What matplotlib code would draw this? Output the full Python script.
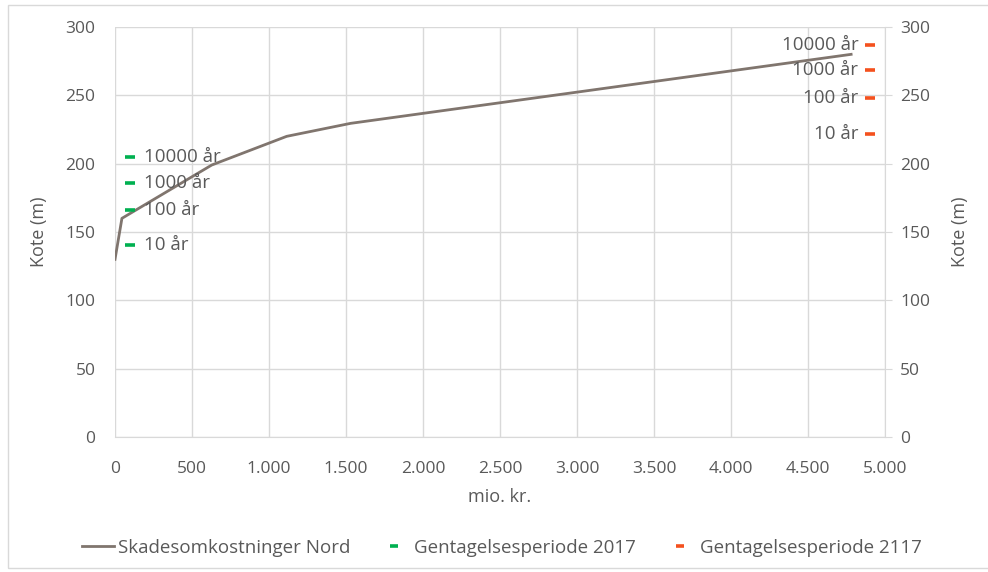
import matplotlib.pyplot as plt
from matplotlib.patches import Rectangle

plt.rcParams['font.family'] = ['Open Sans', 'DejaVu Sans']

# skadesomkostninger (mio. kr.) mod kote (m)
cost = [0, 45, 628, 1115, 1530, 4780]
kote = [130, 160, 199, 220, 229.5, 280]

periods = ["10 år", "100 år", "1000 år", "10000 år"]
x_2017 = [100, 100, 100, 100]
kote_2017 = [140.5, 166, 186, 205]
x_2117 = [4900, 4900, 4900, 4900]
kote_2117 = [222, 248, 268.5, 287]

xticks = [0, 500, 1000, 1500, 2000, 2500, 3000, 3500, 4000, 4500, 5000]
xtick_labels = ["0", "500", "1.000", "1.500", "2.000", "2.500", "3.000",
                "3.500", "4.000", "4.500", "5.000"]
yticks = [0, 50, 100, 150, 200, 250, 300]

grey = "#595959"
grid_c = "#D9D9D9"

fig = plt.figure(figsize=(9.88, 5.72), dpi=100)
ax = fig.add_axes([115/988, 1-437/572, 770/988, 410/572])

ax.plot(cost, kote, color="#80756E", lw=2, label="Skadesomkostninger Nord", zorder=3)
ax.plot(x_2017, kote_2017, ls="none", marker="_", ms=7, mew=2.6, color="#00B050",
        label="Gentagelsesperiode 2017", zorder=4)
ax.plot(x_2117, kote_2117, ls="none", marker="_", ms=7, mew=2.6, color="#F4511E",
        label="Gentagelsesperiode 2117", zorder=4)

for x, y, t in zip(x_2017, kote_2017, periods):
    ax.annotate(t, (x, y), xytext=(10, 0), textcoords="offset points",
                ha="left", va="center", fontsize=13.5, color=grey, zorder=5)
for x, y, t in zip(x_2117, kote_2117, periods):
    ax.annotate(t, (x, y), xytext=(-8, 0), textcoords="offset points",
                ha="right", va="center", fontsize=13.5, color=grey, zorder=5)

ax.set_xlim(0, 5000)
ax.set_ylim(0, 300)
ax.set_xticks(xticks)
ax.set_xticklabels(xtick_labels)
ax.set_yticks(yticks)
ax.grid(True, color=grid_c, lw=1)
ax.set_axisbelow(True)
for s in ["top", "left", "right"]:
    ax.spines[s].set_visible(False)
ax.spines["bottom"].set_color(grid_c)
ax.tick_params(length=0, labelsize=12.5, labelcolor=grey, pad=17)
ax.tick_params(axis="y", pad=14)
ax.set_xlabel("mio. kr.", fontsize=13, color=grey, labelpad=8)
ax.set_ylabel("Kote (m)", fontsize=13, color=grey, labelpad=13)

ax2 = ax.twinx()
ax2.set_ylim(0, 300)
ax2.set_yticks(yticks)
for s in ["top", "left", "bottom"]:
    ax2.spines[s].set_visible(False)
ax2.spines["right"].set_color(grid_c)
ax2.tick_params(axis="y", length=5, color=grid_c, labelsize=12.5, labelcolor=grey, pad=6)
ax2.set_ylabel("Kote (m)", fontsize=13, color=grey, labelpad=15)

h, l = ax.get_legend_handles_labels()
fig.legend(h, l, loc="center", bbox_to_anchor=(0.508, 1-548/572), ncol=3, frameon=False,
           fontsize=13.5, labelcolor=grey, handlelength=1.7, columnspacing=1.5,
           handletextpad=0.2, markerscale=0.8)

fig.patches.append(Rectangle((8/988, 1-568/572), 1, 563/572, transform=fig.transFigure,
                             fill=False, edgecolor=grid_c, lw=1))

fig.savefig("out.png", dpi=100)
